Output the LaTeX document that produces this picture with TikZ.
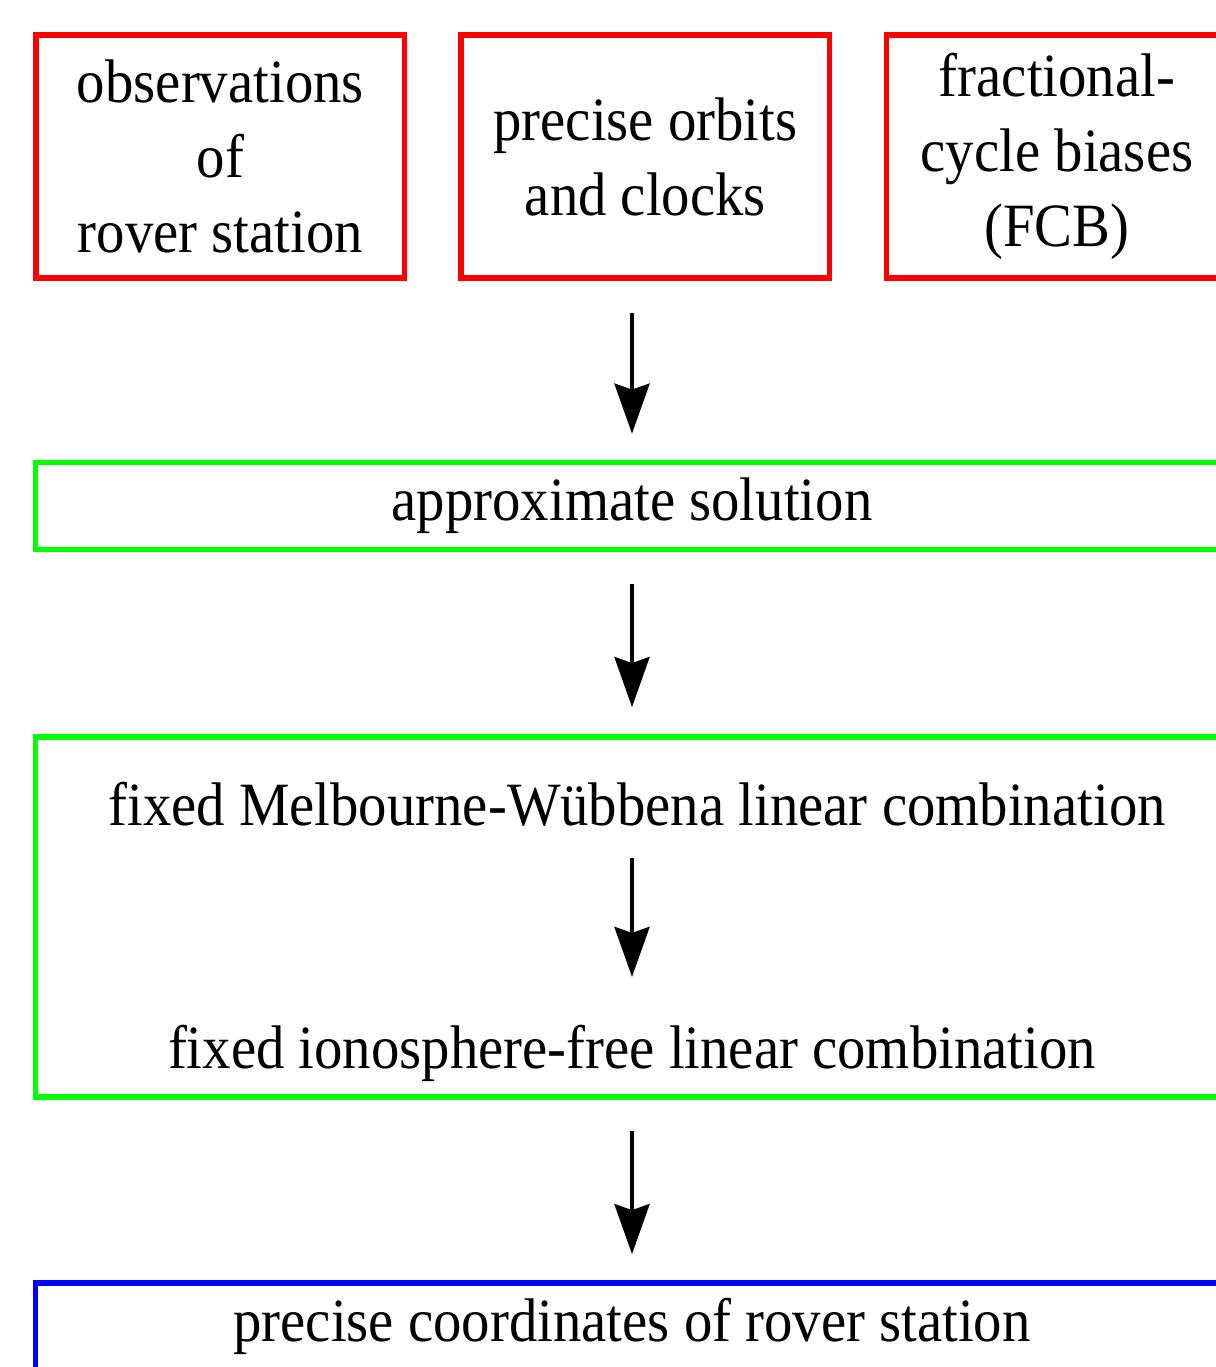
\documentclass[tikz,border=0pt]{standalone}
\usepackage{fontspec}
\setmainfont[FakeStretch=0.922]{Liberation Serif}
\usetikzlibrary{arrows.meta}

\tikzset{
    every node/.style={font=\fontsize{17.5}{21.3}\selectfont, align=center, inner sep=0pt},
    inbox/.style={draw=red, line width=1.6pt, minimum width=3.68cm, minimum height=2.43cm},
    stepbox/.style={draw=green, line width=1.6pt, minimum width=11.92cm},
    resbox/.style={draw=blue, line width=1.6pt, minimum width=11.92cm, minimum height=0.87cm},
    flow/.style={line width=1.15pt, -{Stealth[length=0.5cm, width=0.35cm, inset=0.06cm]}}
}

\begin{document}
\begin{tikzpicture}[x=0.01cm, y=-0.01cm]

    \useasboundingbox (0,0) rectangle (1215,1367);

    % input data
    \node[inbox] (obs) at (220.4,156.7) {observations\\of\\rover station};
    \node[inbox] (orbits) at (645.4,156.7) {precise orbits\\and clocks};
    \node[inbox, minimum width=3.41cm] (fcb) at (1057,156.7) {fractional-\\cycle biases\\(FCB)};

    % processing
    \node[stepbox, minimum height=0.87cm] (approx) at (632,506) {approximate solution};
    \node[stepbox, minimum height=3.6cm] (fixbox) at (632,917) {};
    \node[anchor=base] (mw) at (637,825) {fixed Melbourne-Wübbena linear combination};
    \node[anchor=base] (ifree) at (632,1068) {fixed ionosphere-free linear combination};

    % result
    \node[resbox] (coord) at (632,1326.5) {precise coordinates of rover station};

    \draw[flow, shorten <=0.32cm, shorten >=0.26cm] (approx.north |- orbits.south) -- (approx.north);
    \draw[flow, shorten <=0.32cm, shorten >=0.27cm] (approx.south) -- (fixbox.north);
    \draw[flow, shorten <=0.31cm, shorten >=0.47cm] (mw.south -| ifree.north) -- (ifree.north);
    \draw[flow, shorten <=0.31cm, shorten >=0.26cm] (fixbox.south) -- (coord.north);

\end{tikzpicture}
\end{document}
